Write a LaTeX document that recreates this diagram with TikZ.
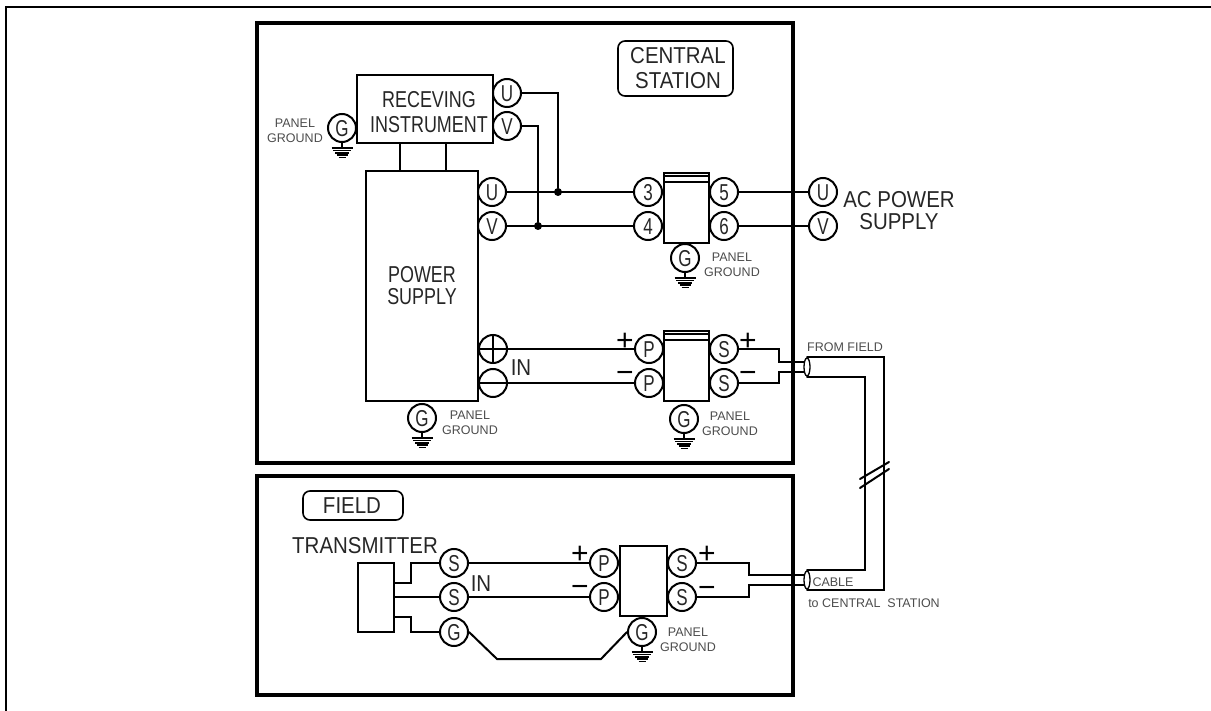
\documentclass[tikz,border=0pt]{standalone}
\usepackage{fontspec}
\usepackage{tikz}
\usetikzlibrary{shapes.geometric, positioning, calc}
\setmainfont{Liberation Sans}
\newfontfamily\termfont[FakeStretch=0.74]{Liberation Sans}
\newfontfamily\narrowfont[FakeStretch=0.78]{Liberation Sans}
\newfontfamily\midfont[FakeStretch=0.89]{Liberation Sans}

\begin{document}
\begin{tikzpicture}[
    x=1pt, y=-1pt,
    wire/.style={line width=2pt, line cap=round, line join=miter},
    framebox/.style={
        rectangle,
        draw=black,
        line width=4pt,
        inner sep=0pt
    },
    unit/.style={
        rectangle,
        draw=black,
        line width=2pt,
        inner sep=0pt,
        align=center,
        text=black!85
    },
    tagbox/.style={
        rectangle,
        rounded corners=7pt,
        draw=black,
        line width=1.6pt,
        inner sep=0pt,
        align=center,
        text=black!85,
        font=\midfont\fontsize{23}{25}\selectfont
    },
    term/.style={
        circle,
        draw=black,
        line width=2pt,
        minimum size=28pt,
        inner sep=0pt,
        text=black!85,
        text height=17pt,
        text depth=0pt,
        font=\termfont\fontsize{23}{23}\selectfont
    },
    dot/.style={circle, fill=black, minimum size=8pt, inner sep=0pt},
    shield/.style={ellipse, draw=black, line width=1.3pt, minimum width=6pt, minimum height=18pt, inner sep=0pt},
    biglabel/.style={inner sep=0pt, align=center, font=\midfont\fontsize{23}{22}\selectfont, text=black!85},
    smalllabel/.style={inner sep=0pt, align=center, font=\fontsize{12.5}{15}\selectfont, text=black!70},
    sign/.style={inner sep=0pt, font=\fontsize{30}{30}\selectfont}
]
\useasboundingbox (0,0) rectangle (1211,711);

% page edge
\coordinate (pagetl) at (6,7);
\coordinate (pagebl) at (6,711);
\coordinate (pagetr) at (1211,7);
\draw[line width=2pt] (pagebl) -- (pagetl) -- (pagetr);

% the two panels
\node[framebox, minimum width=536pt, minimum height=440pt] (central) at (525,243) {};
\node[framebox, minimum width=536pt, minimum height=219pt] (field) at (525,585.5) {};
\node[tagbox, minimum width=115pt, minimum height=55pt] (centraltag) at (675.5,68.5) {\hspace{5pt}CENTRAL\\\hspace{5pt}STATION};
\node[tagbox, minimum width=100pt, minimum height=29pt] (fieldtag) at (353,505.5) {FIELD\hspace{2pt}};

% central station units
\node[unit, minimum width=136pt, minimum height=68pt] (instr) at (425,109) {};
\node[inner sep=0pt, align=center, text=black!85, font=\narrowfont\fontsize{23}{25}\selectfont] (instrlabel) at (429,112) {RECEVING\\INSTRUMENT};
\node[unit, minimum width=112pt, minimum height=230pt, font=\narrowfont\fontsize{23}{22}\selectfont] (power) at (422,286) {POWER\\SUPPLY};
\node[unit, minimum width=45pt, minimum height=70pt] (acbreak) at (686.5,208) {};
\node[unit, minimum width=45pt, minimum height=70pt] (inbreak) at (686.5,366) {};

\foreach \brk in {acbreak, inbreak} {
    \draw[line width=1.2pt] ([yshift=-4pt]\brk.north west) -- ([yshift=-4pt]\brk.north east);
    \draw[line width=1.6pt] ([yshift=-10pt]\brk.north west) -- ([yshift=-10pt]\brk.north east);
}

\draw[wire] (400,143) -- (400,171);
\draw[wire] (446,143) -- (446,171);

% terminals
\node[term] (iu) at (507,93) {U};
\node[term] (iv) at (507,126) {V};
\node[term] (ig) at (342,128) {G};
\node[term] (pu) at (492,192) {U};
\node[term] (pv) at (492,226) {V};
\node[term] (t3) at (648,192) {3};
\node[term] (t4) at (648,226) {4};
\node[term] (t5) at (724,192) {5};
\node[term] (t6) at (724,226) {6};
\node[term] (acu) at (823,192) {U};
\node[term] (acv) at (823,226) {V};
\node[term] (acg) at (685,258) {G};
\node[term, text height=0pt] (pp) at (493,349) {};
\node[term, text height=0pt] (pm) at (493,383) {};
\node[term] (pg) at (422,418) {G};
\node[term] (ip1) at (649,349) {P};
\node[term] (ip2) at (649,383) {P};
\node[term] (is1) at (724,349) {S};
\node[term] (is2) at (724,383) {S};
\node[term] (ing) at (684,419) {G};

\draw[line width=1.6pt] (pp.north) -- (pp.south);
\draw[line width=1.6pt] (pp.west) -- (pp.east);
\draw[line width=1.6pt] (pm.west) -- (pm.east);

\node[dot] (du) at (558,192) {};
\node[dot] (dv) at (538,226) {};

\draw[wire] (iu.east) -| (du);
\draw[wire] (iv.east) -| (dv);
\draw[wire] (pu.east) -- (t3.west);
\draw[wire] (pv.east) -- (t4.west);
\draw[wire] (t5.east) -- (acu.west);
\draw[wire] (t6.east) -- (acv.west);
\draw[wire] (pp.east) -- (ip1.west);
\draw[wire] (pm.east) -- (ip2.west);

% field units
\node[unit, minimum width=36pt, minimum height=69pt] (trans) at (376,597.5) {};
\node[unit, minimum width=47pt, minimum height=70pt] (fbreak) at (643.5,580.5) {};
\node[term] (ts1) at (454,563) {S};
\node[term] (ts2) at (454,597) {S};
\node[term] (tg) at (454,632) {G};
\node[term] (fp1) at (604,563) {P};
\node[term] (fp2) at (604,597) {P};
\node[term] (fs1) at (682,563) {S};
\node[term] (fs2) at (682,597) {S};
\node[term] (fg) at (642,632) {G};

\coordinate (tb1) at (394,583);
\coordinate (tb2) at (394,597);
\coordinate (tb3) at (394,617);
\draw[wire] (tb1) -- ++(17,0) |- (ts1.west);
\draw[wire] (tb2) -- (ts2.west);
\draw[wire] (tb3) -- ++(17,0) |- (tg.west);
\draw[wire] (ts1.east) -- (fp1.west);
\draw[wire] (ts2.east) -- (fp2.west);
\coordinate (gl) at (497,659);
\coordinate (gr) at (601,659);
\draw[wire] (tg.east) -- (gl) -- (gr) -- (fg.west);

% shielded cable
\node[shield] (cabletop) at (807,367) {};
\node[shield] (cablebot) at (807,580) {};
\coordinate (ct1) at (804,362);
\coordinate (ct2) at (804,372);
\coordinate (cb1) at (804,575);
\coordinate (cb2) at (804,585);
\draw[wire] (is1.east) -- ++(40,0) |- (ct1);
\draw[wire] (is2.east) -- ++(40,0) |- (ct2);
\draw[wire] (fs1.east) -- ++(52,0) |- (cb1);
\draw[wire] (fs2.east) -- ++(52,0) |- (cb2);
\coordinate (outer) at (884,470);
\coordinate (inner) at (865,470);
\draw[wire] (cabletop.north) -| (outer) |- (cablebot.south);
\draw[wire] (cabletop.south) -| (inner) |- (cablebot.north);

\coordinate (cuta1) at (860,479);
\coordinate (cuta2) at (889,462);
\coordinate (cutb1) at (860,488);
\coordinate (cutb2) at (889,469);
\draw[wire] (cuta1) -- (cuta2);
\draw[wire] (cutb1) -- (cutb2);

% grounds
\foreach \gnd in {ig, acg, pg, ing, fg} {
    \draw[line width=1.4pt] (\gnd.south) -- ++(0,5);
    \foreach \dy/\hw in {5/10.5, 7.4/9, 9.8/7, 12.2/5.5, 14.6/3.5} {
        \draw[line width=1.7pt] ($(\gnd.south)+(-\hw,\dy)$) -- ++(2*\hw,0);
    }
}

% labels
\node[biglabel] (aclabel) at (899,211) {AC POWER\\[0pt]SUPPLY};
\node[biglabel] (translabel) at (365,546) {TRANSMITTER};
\node[biglabel] (inlabel) at (521,368) {IN};
\node[biglabel] (inlabelf) at (481,584) {IN};

\node[smalllabel] (igl) at (295,131) {PANEL\\GROUND};
\node[smalllabel] (acgl) at (732,265) {PANEL\\GROUND};
\node[smalllabel] (pgl) at (470,422.5) {PANEL\\GROUND};
\node[smalllabel] (ingl) at (730,423.5) {PANEL\\GROUND};
\node[smalllabel] (fgl) at (688,639.5) {PANEL\\GROUND};
\node[smalllabel] (fromlabel) at (845,347) {FROM FIELD};
\node[smalllabel] (cablelabel) at (833,582) {CABLE};
\node[smalllabel] (tolabel) at (874,603) {to CENTRAL\ \ STATION};

\node[sign] (signa) at (625,342) {+};
\node[sign] (signb) at (625,377) {−};
\node[sign] (signc) at (748,342) {+};
\node[sign] (signd) at (748,377) {−};
\node[sign] (signe) at (580,555) {+};
\node[sign] (signf) at (580,591) {−};
\node[sign] (signg) at (707,555) {+};
\node[sign] (signh) at (707,592) {−};

\end{tikzpicture}
\end{document}
